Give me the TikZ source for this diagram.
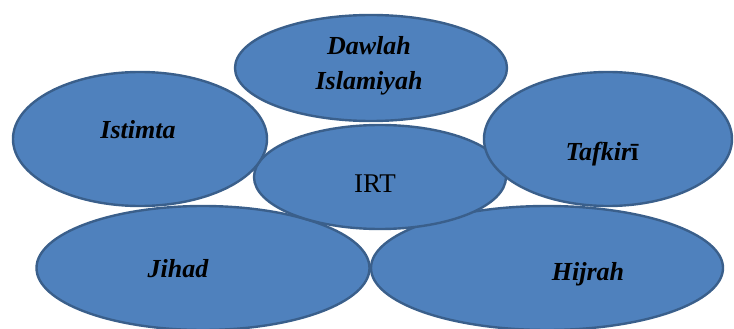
\documentclass[tikz,border=0pt]{standalone}
\usepackage{fontspec}
\setmainfont{Liberation Serif}
\usetikzlibrary{shapes.geometric}
\definecolor{bubble}{HTML}{4F81BD}
\definecolor{bubbleline}{HTML}{3A5F8B}
\tikzset{
  bubble/.style={ellipse, draw=bubbleline, fill=bubble, line width=2.4pt, inner sep=0pt},
  lbl/.style={anchor=base, inner sep=0pt, font=\fontsize{26}{34}\selectfont\bfseries\itshape, text=black},
}
\begin{document}
\begin{tikzpicture}[x=1pt,y=-1pt]
\useasboundingbox (0,0) rectangle (734,329);
\node[bubble, minimum width=272pt, minimum height=106pt] (dawlah) at (371,68) {};
\node[bubble, minimum width=333pt, minimum height=124pt] (jihad) at (203,268) {};
\node[bubble, minimum width=352pt, minimum height=124pt] (hijrah) at (547,268) {};
\node[bubble, minimum width=252pt, minimum height=104pt] (irt) at (380,177) {};
\node[bubble, minimum width=254pt, minimum height=134pt] (istimta) at (140,139) {};
\node[bubble, minimum width=248pt, minimum height=134pt] (tafkiri) at (608,139) {};
\node[lbl] (tdawlah) at (369,55) {Dawlah};
\node[lbl] (tislamiyah) at (369,89) {Islamiyah};
\node[lbl] (tistimta) at (138,138) {Istimta};
\node[lbl] (ttafkiri) at (602,160) {Tafkir\upshape ī};
\node[lbl, font=\fontsize{27}{34}\selectfont] (tirt) at (375,192) {IRT};
\node[lbl] (tjihad) at (178,277) {Jihad};
\node[lbl] (thijrah) at (588,280) {Hijrah};
\end{tikzpicture}
\end{document}
